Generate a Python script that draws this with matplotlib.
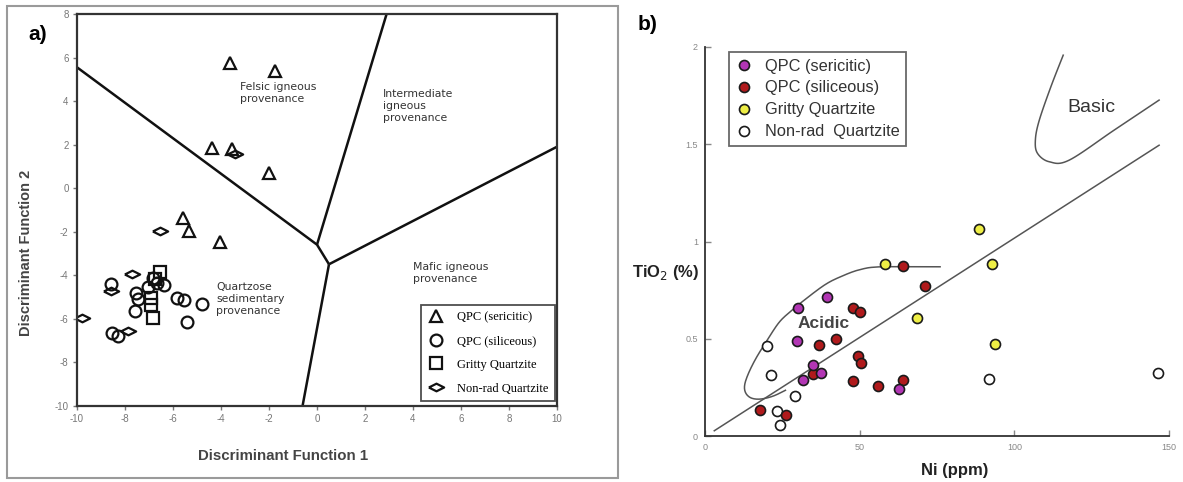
import numpy as np
import matplotlib
matplotlib.use("Agg")
import matplotlib.pyplot as plt
from matplotlib.lines import Line2D
from matplotlib.patches import Rectangle

# ---------------- Panel a data (Discriminant functions) ----------------
sericitic_a_x = [-3.63, -1.75, -4.36, -3.55, -1.99, -5.57, -5.32, -4.04]
sericitic_a_y = [5.74, 5.40, 1.83, 1.79, 0.69, -1.38, -1.95, -2.50]

siliceous_a_x = [-8.58, -7.55, -7.45, -7.58, -7.03, -6.82, -6.68, -6.38, -5.82, -5.54, -4.80, -5.43, -8.55, -8.28]
siliceous_a_y = [-4.41, -4.83, -5.10, -5.64, -4.55, -4.14, -4.37, -4.44, -5.05, -5.16, -5.31, -6.16, -6.66, -6.82]

gritty_a_x = [-6.55, -6.75, -6.90, -6.90, -6.85]
gritty_a_y = [-3.85, -4.20, -5.05, -5.35, -5.95]

nonrad_a_x = [-3.42, -6.54, -7.72, -8.58, -9.80, -7.86]
nonrad_a_y = [1.57, -1.95, -3.94, -4.75, -5.97, -6.59]

# field boundaries (x, y) vertices
bound_felsic_x = [-10.0, 0.0, 0.5]
bound_felsic_y = [5.55, -2.60, -3.50]
bound_int_x = [2.9, 0.0]
bound_int_y = [8.0, -2.60]
bound_mafic_x = [0.5, 10.0]
bound_mafic_y = [-3.50, 1.90]
bound_sed_x = [0.5, -0.6]
bound_sed_y = [-3.50, -10.0]

a_xticks = [-10, -8, -6, -4, -2, 0, 2, 4, 6, 8, 10]
a_yticks = [-10, -8, -6, -4, -2, 0, 2, 4, 6, 8]

# ---------------- Panel b data (Ni vs TiO2) ----------------
sericitic_b_x = [30.1, 29.6, 34.9, 37.6, 31.7, 39.5, 62.7]
sericitic_b_y = [0.66, 0.49, 0.365, 0.325, 0.29, 0.716, 0.24]

siliceous_b_x = [36.9, 34.9, 17.7, 26.1, 64.0, 71.0, 47.8, 50.0, 42.5, 49.5, 50.5, 47.8, 55.9, 64.0]
siliceous_b_y = [0.468, 0.32, 0.134, 0.108, 0.875, 0.772, 0.66, 0.64, 0.50, 0.41, 0.373, 0.284, 0.259, 0.288]

gritty_b_x = [58.1, 68.5, 88.7, 92.7, 93.9]
gritty_b_y = [0.882, 0.605, 1.062, 0.882, 0.471]

nonrad_b_x = [91.7, 146.6, 19.9, 21.2, 29.0, 23.3, 24.4]
nonrad_b_y = [0.293, 0.322, 0.462, 0.313, 0.207, 0.128, 0.057]

line_b_x = [3.0, 146.8]
line_b_y = [0.027, 1.495]

acidic_x = [76.0, 57.0, 50.0, 44.0, 39.0, 33.0, 28.0, 24.0, 20.0, 16.5, 14.0, 12.8, 13.2, 15.0, 18.0, 22.0, 26.0]
acidic_y = [0.87, 0.87, 0.855, 0.82, 0.78, 0.71, 0.645, 0.585, 0.49, 0.40, 0.32, 0.26, 0.22, 0.195, 0.19, 0.205, 0.235]

basic_x = [115.8, 111.8, 108.0, 106.8, 107.5, 111.3, 117.7, 132.3, 146.8]
basic_y = [1.958, 1.795, 1.62, 1.52, 1.453, 1.41, 1.418, 1.573, 1.727]

b_xticks = [0, 50, 100, 150]
b_yticks = [0, 0.5, 1, 1.5, 2]
b_yticklabels = ["0", "0.5", "1", "1.5", "2"]


def smooth(xs, ys, n=12):
    """Catmull-Rom smoothing of a boundary polyline."""
    p = np.column_stack([xs, ys]).astype(float)
    p = np.vstack([p[0], p, p[-1]])
    out = []
    for i in range(1, len(p) - 2):
        p0, p1, p2, p3 = p[i - 1], p[i], p[i + 1], p[i + 2]
        for t in np.linspace(0, 1, n, endpoint=False):
            t2, t3 = t * t, t * t * t
            pt = 0.5 * ((2 * p1) + (-p0 + p2) * t + (2 * p0 - 5 * p1 + 4 * p2 - p3) * t2
                        + (-p0 + 3 * p1 - 3 * p2 + p3) * t3)
            out.append(pt)
    out.append(p[-2])
    out = np.array(out)
    return out[:, 0], out[:, 1]


W, H = 1183, 482
plt.rcParams['font.family'] = ['Liberation Sans', 'DejaVu Sans']
plt.rcParams['axes.unicode_minus'] = False
fig = plt.figure(figsize=(W / 100, H / 100), dpi=100)

# outer frame of panel a
fig.patches.append(Rectangle((7 / W, 1 - 478 / H), (618 - 7) / W, (478 - 6) / H,
                             transform=fig.transFigure, fill=False, edgecolor='#9a9a9a', lw=1.5))

# ---------------- Panel a ----------------
axa = fig.add_axes([77 / W, 1 - 405.7 / H, 480 / W, (405.7 - 14) / H])
axa.set_xlim(-10, 10)
axa.set_ylim(-10, 8)
for sp in axa.spines.values():
    sp.set_color('#333333')
    sp.set_linewidth(1.6)
axa.set_xticks(a_xticks)
axa.set_yticks(a_yticks)
axa.tick_params(direction='out', length=3, width=1, colors='#777777', labelsize=7, pad=3)

lk = dict(color='#111111', lw=1.8, solid_capstyle='butt')
axa.plot(bound_felsic_x, bound_felsic_y, **lk)
axa.plot(bound_int_x, bound_int_y, **lk)
axa.plot(bound_mafic_x, bound_mafic_y, **lk)
axa.plot(bound_sed_x, bound_sed_y, **lk)

diamond = [(-1, 0), (0, 0.5), (1, 0), (0, -0.5), (-1, 0)]
mk = dict(ls='none', mfc='none', mec='#111111', mew=1.6)
axa.plot(siliceous_a_x, siliceous_a_y, marker='o', ms=8.5, **mk)
axa.plot(gritty_a_x, gritty_a_y, marker='s', ms=8, **mk)
axa.plot(nonrad_a_x, nonrad_a_y, marker=diamond, ms=11, **mk)
axa.plot(sericitic_a_x, sericitic_a_y, marker='^', ms=9, **mk)

tk = dict(fontsize=7.8, color='#333333', linespacing=1.25, va='center', ha='left',
          family=['DejaVu Sans'])
axa.text(-3.2, 4.35, "Felsic igneous\nprovenance", **tk)
axa.text(2.75, 3.75, "Intermediate\nigneous\nprovenance", **tk)
axa.text(4.0, -3.9, "Mafic igneous\nprovenance", **tk)
axa.text(-4.2, -5.1, "Quartzose\nsedimentary\nprovenance", **tk)

axa.set_xlabel("Discriminant Function 1", fontsize=10.8, fontweight='bold', color='#444444')
axa.xaxis.set_label_coords((283 - 77) / 480, -(449 - 405.7) / 391.7)
axa.set_ylabel("Discriminant Function 2", fontsize=10.5, fontweight='bold', color='#444444')
axa.yaxis.set_label_coords(-(77 - 33) / 480, (405.7 - 253) / 391.7)

ha_ = [Line2D([], [], marker='^', ms=9, **mk),
       Line2D([], [], marker='o', ms=8.5, **mk),
       Line2D([], [], marker='s', ms=8, **mk),
       Line2D([], [], marker=diamond, ms=11, **mk)]
leg_a = axa.legend(ha_, ["QPC (sericitic)", "QPC (siliceous)", "Gritty Quartzite", "Non-rad Quartzite"],
                   loc='lower right', bbox_to_anchor=(0.995, 0.012), frameon=True, fancybox=False,
                   prop={'family': ['Liberation Serif', 'DejaVu Serif'], 'size': 9},
                   labelspacing=0.95, handlelength=1.5, handletextpad=0.9, borderpad=0.5,
                   borderaxespad=0)
leg_a.get_frame().set_edgecolor('#222222')
leg_a.get_frame().set_linewidth(1.3)

fig.text(28 / W, 1 - 34 / H, "a)", fontsize=15, fontweight='bold', va='center', ha='left')

# ---------------- Panel b ----------------
axb = fig.add_axes([705 / W, 1 - 436 / H, (1169 - 705) / W, (436 - 47) / H])
axb.set_xlim(0, 150)
axb.set_ylim(0, 2)
axb.spines['top'].set_visible(False)
axb.spines['right'].set_visible(False)
for s in ('left', 'bottom'):
    axb.spines[s].set_color('#333333')
    axb.spines[s].set_linewidth(1.3)
axb.set_xticks(b_xticks)
axb.set_yticks(b_yticks)
axb.set_yticklabels(b_yticklabels)
axb.tick_params(direction='in', length=4, width=1, colors='#888888', labelsize=6.5, pad=5)

gl = dict(color='#555555', lw=1.1)
axb.plot(line_b_x, line_b_y, **gl)
sx, sy = smooth(acidic_x, acidic_y)
axb.plot(sx, sy, **gl)
sx, sy = smooth(basic_x, basic_y)
axb.plot(sx, sy, **gl)

col_ser = '#b236b4'
col_sil = '#b01a1c'
col_gri = '#eeee45'
col_non = '#ffffff'
pk = dict(ls='none', marker='o', ms=7.2, mec='#1a1a1a', mew=1.2)
axb.plot(nonrad_b_x, nonrad_b_y, mfc=col_non, **pk)
axb.plot(gritty_b_x, gritty_b_y, mfc=col_gri, **pk)
axb.plot(siliceous_b_x, siliceous_b_y, mfc=col_sil, **pk)
axb.plot(sericitic_b_x, sericitic_b_y, mfc=col_ser, **pk)

axb.text(30, 0.58, "Acidic", fontsize=12.5, fontweight='bold', color='#444444', ha='left', va='center')
axb.text(117, 1.69, "Basic", fontsize=14, color='#333333', ha='left', va='center')

axb.set_xlabel("Ni (ppm)", fontsize=12, fontweight='bold', color='#222222')
axb.xaxis.set_label_coords((955 - 705) / 464, -(463 - 436) / 389)
axb.set_ylabel("TiO$_2$ (%)", fontsize=12, fontweight='bold', color='#222222', rotation=0,
               ha='right', va='center')
axb.yaxis.set_label_coords(-0.012, 0.84 / 2)

hb = [Line2D([], [], mfc=c, **pk) for c in (col_ser, col_sil, col_gri, col_non)]
leg_b = axb.legend(hb, ["QPC (sericitic)", "QPC (siliceous)", "Gritty Quartzite", "Non-rad  Quartzite"],
                   loc='upper left', bbox_to_anchor=(0.052, 0.987), frameon=True, fancybox=False,
                   prop={'size': 11.8}, labelspacing=0.42, handlelength=1.0, handletextpad=0.8,
                   borderpad=0.4, borderaxespad=0)
leg_b.get_frame().set_edgecolor('#444444')
leg_b.get_frame().set_linewidth(1.3)
for t in leg_b.get_texts():
    t.set_color('#333333')

fig.text(638 / W, 1 - 24 / H, "b)", fontsize=15, fontweight='bold', va='center', ha='left')

fig.savefig("out.png", dpi=100)
